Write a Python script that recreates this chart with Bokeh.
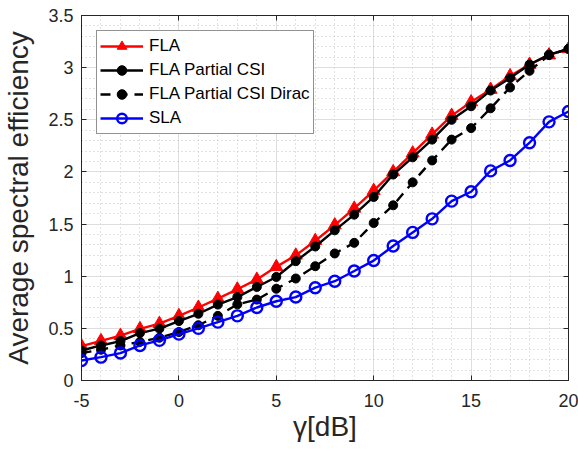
import numpy as np
from bokeh.plotting import figure
from bokeh.models import FixedTicker, Legend, LegendItem, LinearAxis, CustomLabelingPolicy
from bokeh.embed import file_html
from bokeh.resources import INLINE

# ---- data ----
gamma_db = list(range(-5, 21))
fla = [0.33, 0.38, 0.43, 0.495, 0.545, 0.62, 0.70, 0.785, 0.875, 0.968, 1.09, 1.2, 1.34,
       1.49, 1.65, 1.82, 2.0, 2.18, 2.36, 2.54, 2.67, 2.79, 2.92, 3.03, 3.12, 3.18]
fla_partial = [0.288, 0.336, 0.378, 0.455, 0.497, 0.57, 0.64, 0.728, 0.80, 0.897, 0.993, 1.144, 1.285,
               1.44, 1.59, 1.76, 1.975, 2.14, 2.31, 2.50, 2.63, 2.78, 2.90, 3.03, 3.125, 3.18]
fla_dirac = [0.263, 0.295, 0.336, 0.37, 0.41, 0.465, 0.53, 0.62, 0.73, 0.776, 0.88, 0.978, 1.096,
             1.218, 1.32, 1.51, 1.68, 1.90, 2.11, 2.31, 2.42, 2.61, 2.81, 2.97, 3.12, 3.18]
sla = [0.192, 0.224, 0.263, 0.336, 0.385, 0.445, 0.50, 0.56, 0.62, 0.70, 0.76, 0.80, 0.89,
       0.952, 1.05, 1.15, 1.29, 1.42, 1.55, 1.72, 1.81, 2.01, 2.11, 2.28, 2.48, 2.58]

x_ticks = [-5, 0, 5, 10, 15, 20]
x_tick_labels = ["-5", "0", "5", "10", "15", "20"]
y_ticks = [0, 0.5, 1, 1.5, 2, 2.5, 3, 3.5]
y_tick_labels = ["0", "0.5", "1", "1.5", "2", "2.5", "3", "3.5"]

FONT = "Liberation Sans"
AX = "#262626"

p = figure(width=578, height=453, x_range=(-5, 20), y_range=(0, 3.5),
           output_backend="svg", toolbar_location=None,
           min_border_left=80, min_border_right=10, min_border_top=15, min_border_bottom=73)
p.outline_line_color = AX
p.outline_line_width = 1

xt = FixedTicker(ticks=x_ticks, minor_ticks=list(np.arange(-5, 20.01, 1.0)))
yt = FixedTicker(ticks=y_ticks, minor_ticks=list(np.round(np.arange(0, 3.501, 0.1), 2)))

for ax, t, labs in ((p.xaxis[0], xt, x_tick_labels), (p.yaxis[0], yt, y_tick_labels)):
    ax.ticker = t
    ax.major_label_overrides = {tv: lb for tv, lb in zip(t.ticks, labs)}
    ax.major_tick_in = 5
    ax.major_tick_out = 0
    ax.minor_tick_in = 0
    ax.minor_tick_out = 0
    ax.axis_line_color = AX
    ax.major_tick_line_color = AX
    ax.major_label_text_font = FONT
    ax.major_label_text_font_size = "18px"
    ax.major_label_text_color = AX
    ax.axis_label_text_font = FONT
    ax.axis_label_text_font_size = "28px"
    ax.axis_label_text_font_style = "normal"
    ax.axis_label_text_color = AX

p.xaxis.axis_label = "γ[dB]"
p.yaxis.axis_label = "Average spectral efficiency"
p.xaxis.major_label_standoff = 13
p.yaxis.major_label_standoff = 8
p.xaxis.axis_label_standoff = 1
p.yaxis.axis_label_standoff = 11

hide_all = CustomLabelingPolicy(code="""
for (const i of indices) { indices.unset(i) }
return indices
""")

# box-style top/right axes with inward ticks, no labels
for loc, t in (("above", xt), ("right", yt)):
    a = LinearAxis(ticker=t, major_tick_in=5, major_tick_out=0, minor_tick_in=0, minor_tick_out=0,
                   axis_line_color=AX, major_tick_line_color=AX,
                   major_label_policy=hide_all, major_label_standoff=0,
                   major_label_text_font_size="1px")
    p.add_layout(a, loc)

for g in (p.xgrid[0], p.ygrid[0]):
    g.grid_line_color = "#dedede"
    g.grid_line_width = 1
    g.minor_grid_line_color = "#c4c4c4"
    g.minor_grid_line_dash = "1 3"
    g.minor_grid_line_width = 1

LW = 2.4
r1l = p.line(gamma_db, fla, line_color="red", line_width=LW)
r1m = p.scatter(gamma_db, fla, marker="triangle", size=13, fill_color="red", line_color="red", line_width=1)
r2l = p.line(gamma_db, fla_partial, line_color="black", line_width=LW)
r2m = p.scatter(gamma_db, fla_partial, marker="circle", size=9, fill_color="black", line_color="black")
r3l = p.line(gamma_db, fla_dirac, line_color="black", line_width=LW, line_dash="10 7")
r3m = p.scatter(gamma_db, fla_dirac, marker="circle", size=9, fill_color="black", line_color="black")
r4l = p.line(gamma_db, sla, line_color="blue", line_width=LW)
r4m = p.scatter(gamma_db, sla, marker="circle", size=11, fill_color="white", fill_alpha=0,
                line_color="blue", line_width=2.4)

legend = Legend(items=[
    LegendItem(label="FLA", renderers=[r1l, r1m]),
    LegendItem(label="FLA Partial CSI", renderers=[r2l, r2m]),
    LegendItem(label="FLA Partial CSI Dirac", renderers=[r3l, r3m]),
    LegendItem(label="SLA", renderers=[r4l, r4m]),
], location="top_left")
legend.margin = 15
legend.padding = 3
legend.spacing = 0
legend.label_height = 24
legend.glyph_height = 24
legend.glyph_width = 43
legend.label_standoff = 6
legend.label_text_font = FONT
legend.label_text_font_size = "17px"
legend.label_text_color = "black"
legend.border_line_color = AX
legend.border_line_width = 1
legend.background_fill_color = "white"
legend.background_fill_alpha = 1
p.add_layout(legend, "center")

open("out.html", "w").write(file_html(p, INLINE))
